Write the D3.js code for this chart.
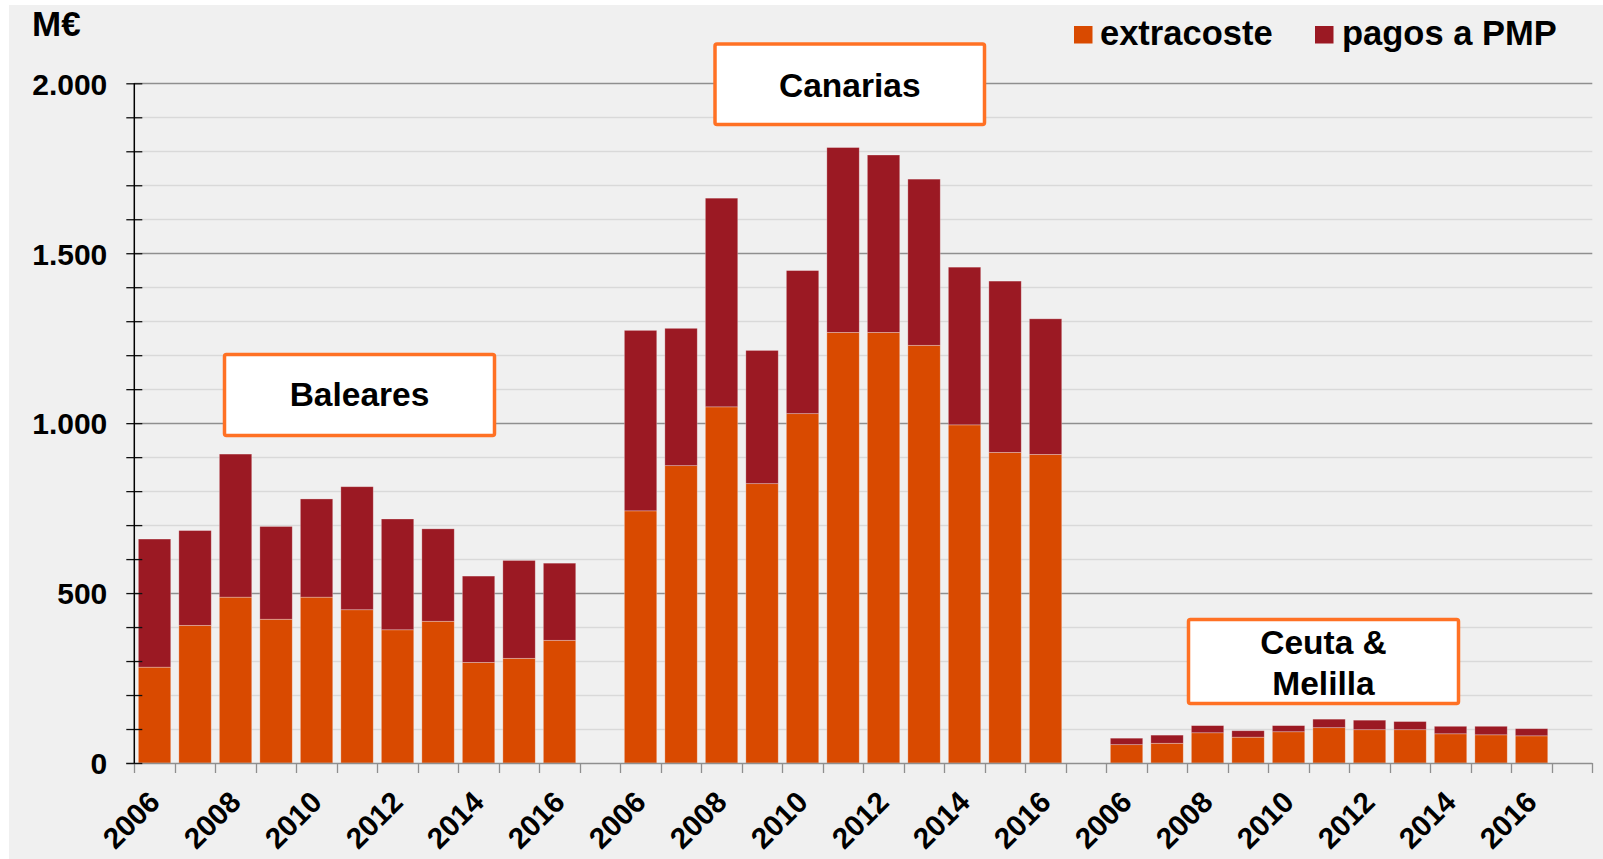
<!DOCTYPE html>
<html>
<head>
<meta charset="utf-8">
<script src="https://cdn.jsdelivr.net/npm/d3@7"></script>
<style>
  html, body { margin: 0; padding: 0; background: #ffffff; }
  svg { display: block; font-family: "Liberation Sans", Arial, sans-serif; }
</style>
</head>
<body>
<svg id="chart" width="1603" height="859"></svg>
<script>
// ---------- DATA ----------
const years = [2006, 2007, 2008, 2009, 2010, 2011, 2012, 2013, 2014, 2015, 2016];
const labelYears = [2006, 2008, 2010, 2012, 2014, 2016];
const regions = ["Baleares", "Canarias", "Ceuta & Melilla"];
const seriesNames = ["extracoste", "pagos a PMP"];
const seriesKeys = ["extracoste", "pagos"];

const extracosteBaleares = [282, 405, 488, 423, 488, 451, 392, 417, 296, 308, 361];
const pagosBaleares      = [377, 279, 421, 273, 289, 362, 326, 272, 254, 288, 227];
const extracosteCanarias = [742, 875, 1048, 822, 1028, 1267, 1267, 1229, 995, 914, 908];
const pagosCanarias      = [531, 404, 614, 392, 421, 544, 522, 489, 464, 504, 399];
const extracosteCeuta    = [54, 58, 89, 76, 92, 104, 98, 98, 86, 83, 80];
const pagosCeuta         = [19, 24, 21, 19, 18, 25, 28, 24, 22, 25, 21];

const yTickValues = [0, 500, 1000, 1500, 2000];
const yMinorStep = 100;
const yMax = 2000;
const unitLabel = "M€";

// ---------- BUILD ROWS ----------
const regionSeries = [
  { region: regions[0], ext: extracosteBaleares, pag: pagosBaleares },
  { region: regions[1], ext: extracosteCanarias, pag: pagosCanarias },
  { region: regions[2], ext: extracosteCeuta, pag: pagosCeuta }
];
const slots = [];
const rows = [];
regionSeries.forEach((g, gi) => {
  years.forEach((yr, i) => {
    const key = g.region + "|" + yr;
    slots.push(key);
    rows.push({ key, year: yr, region: g.region, extracoste: g.ext[i], pagos: g.pag[i] });
  });
  slots.push("gap" + gi);
});

// ---------- LAYOUT ----------
const svg = d3.select("#chart");
const W = 1603, H = 859;
const plot = { left: 134.3, right: 1592.3, top: 83.3, bottom: 763 };
const colors = { extracoste: "#d94a00", pagos: "#9b1923" };

svg.append("rect").attr("x", 9).attr("y", 5).attr("width", W - 9).attr("height", H - 5).attr("fill", "#f0f0f0");

const x = d3.scaleBand().domain(slots).range([plot.left, plot.right]).padding(0);
const y = d3.scaleLinear().domain([0, yMax]).range([plot.bottom, plot.top]);
const locale = d3.formatLocale({ decimal: ",", thousands: ".", grouping: [3], currency: ["", "€"] });
const fmt = locale.format(",");

// gridlines
const allTicks = d3.range(0, yMax + 1, yMinorStep);
svg.append("g").selectAll("line").data(allTicks.filter(v => v > 0)).join("line")
  .attr("x1", plot.left).attr("x2", plot.right)
  .attr("y1", d => Math.round(y(d)) + 0.5).attr("y2", d => Math.round(y(d)) + 0.5)
  .attr("stroke", d => (d % 500 === 0 ? "#8f8f8f" : "#d9d9d9"))
  .attr("stroke-width", 1.3);

// bars
const stack = d3.stack().keys(seriesKeys);
const stacked = stack(rows);
const bw = x.bandwidth();
svg.append("g").selectAll("g").data(stacked).join("g")
  .attr("fill", d => colors[d.key])
  .selectAll("rect").data(d => d).join("rect")
  .attr("x", d => x(d.data.key) + bw * 0.1)
  .attr("width", bw * 0.8)
  .attr("y", d => y(d[1]))
  .attr("height", d => y(d[0]) - y(d[1]))
  .attr("stroke", "rgba(255,255,255,0.35)")
  .attr("stroke-width", 0.8);

// x axis
const xAxisG = svg.append("g");
xAxisG.append("line").attr("x1", 126).attr("x2", plot.right)
  .attr("y1", plot.bottom + 0.5).attr("y2", plot.bottom + 0.5)
  .attr("stroke", "#8f8f8f").attr("stroke-width", 1.3);
const boundaries = slots.map(s => x(s)).concat([plot.right]);
xAxisG.selectAll("line.tk").data(boundaries).join("line").attr("class", "tk")
  .attr("x1", d => Math.round(d) + 0.5).attr("x2", d => Math.round(d) + 0.5)
  .attr("y1", plot.bottom).attr("y2", plot.bottom + 10)
  .attr("stroke", "#8f8f8f").attr("stroke-width", 1.3);
xAxisG.selectAll("text").data(rows.filter(r => labelYears.includes(r.year))).join("text")
  .attr("transform", d => `translate(${x(d.key) + bw / 2 + 7},${plot.bottom + 41}) rotate(-45)`)
  .attr("text-anchor", "end")
  .attr("font-size", 29.5).attr("font-weight", "bold").attr("fill", "#000")
  .text(d => d.year);

// y axis
const yAxis = d3.axisLeft(y).tickValues(allTicks).tickSize(8)
  .tickFormat(d => (yTickValues.includes(d) ? fmt(d) : ""));
const yG = svg.append("g").attr("transform", `translate(${plot.left},0)`).call(yAxis);
yG.select(".domain").remove();
yG.selectAll(".tick line").attr("x1", 8).attr("x2", -8).attr("stroke", "#111").attr("stroke-width", 1.3);
yG.selectAll(".tick text").attr("x", -27).attr("dy", "0.36em")
  .attr("font-size", 30).attr("font-weight", "bold").attr("fill", "#000")
  .attr("font-family", "Liberation Sans, Arial, sans-serif");
svg.append("line").attr("x1", plot.left).attr("x2", plot.left)
  .attr("y1", plot.top).attr("y2", plot.bottom)
  .attr("stroke", "#000").attr("stroke-width", 1.5);

// unit label
svg.append("text").attr("x", 32).attr("y", 36).attr("font-size", 35).attr("font-weight", "bold")
  .attr("fill", "#000").text(unitLabel);

// legend
const legend = [
  { key: "extracoste", name: seriesNames[0], sx: 1074, tx: 1100 },
  { key: "pagos", name: seriesNames[1], sx: 1315, tx: 1342 }
];
const lg = svg.append("g");
lg.selectAll("rect").data(legend).join("rect")
  .attr("x", d => d.sx).attr("y", 26).attr("width", 18.5).attr("height", 17.5)
  .attr("fill", d => colors[d.key]);
lg.selectAll("text").data(legend).join("text")
  .attr("x", d => d.tx).attr("y", 45).attr("font-size", 34.5).attr("font-weight", "bold")
  .attr("fill", "#000").text(d => d.name);

// region boxes
const boxes = [
  { lines: ["Baleares"], x: 224.5, y: 354.5, w: 270, h: 81, base: [406] },
  { lines: ["Canarias"], x: 715, y: 44, w: 269.5, h: 80.5, base: [97.3] },
  { lines: ["Ceuta &", "Melilla"], x: 1188.5, y: 619.5, w: 270, h: 84, base: [654, 695] }
];
const bg = svg.append("g");
boxes.forEach((b) => {
  bg.append("rect").attr("x", b.x).attr("y", b.y).attr("width", b.w).attr("height", b.h)
    .attr("rx", 2).attr("fill", "#ffffff").attr("stroke", "#ff7124").attr("stroke-width", 3.5);
  b.lines.forEach((t, j) => {
    bg.append("text").attr("x", b.x + b.w / 2).attr("y", b.base[j])
      .attr("text-anchor", "middle").attr("font-size", 33.5).attr("font-weight", "bold")
      .attr("fill", "#000").text(t);
  });
});
</script>
</body>
</html>
